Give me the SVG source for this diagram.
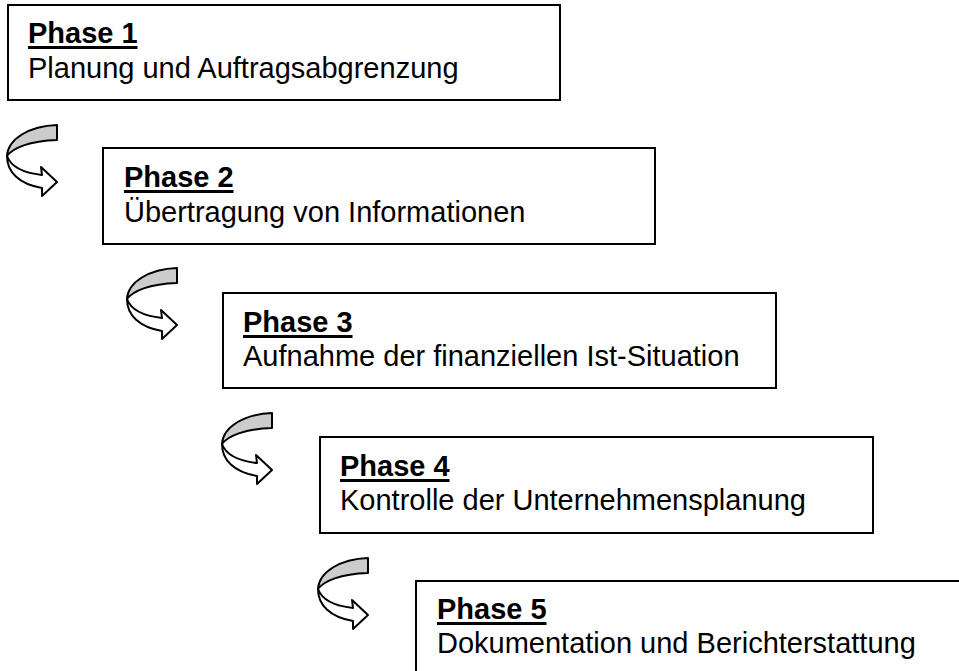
<svg xmlns="http://www.w3.org/2000/svg" xmlns:xlink="http://www.w3.org/1999/xlink" width="959" height="671" viewBox="0 0 959 671">
<style>
.box{fill:#fff;stroke:#000;stroke-width:2}
.t{font-family:"Liberation Sans",Arial,sans-serif;font-size:29px;fill:#000}
.h{font-weight:bold}
.ul{stroke:#000;stroke-width:3}
.band{fill:#cccccc;stroke:#000;stroke-width:2;stroke-linejoin:round}
.body{fill:#fff;stroke:#000;stroke-width:2;stroke-linejoin:round}
</style>
<defs>
<g id="curved">
<path class="body" d="M-50,31 C-50,47 -38,59 -15,63 L-15,71 L0,57 L-16,42 L-15,50 C-33,48 -46,42 -50,31 Z"/>
<path class="band" d="M0,0 C-28,1 -49,14 -50,31 C-44,23 -28,16 0,15 Z"/>
</g>
</defs>
<rect width="959" height="671" fill="#fff"/>
<g id="connectors">
<use xlink:href="#curved" transform="translate(57,125)"/>
<use xlink:href="#curved" transform="translate(177,268)"/>
<use xlink:href="#curved" transform="translate(272,413)"/>
<use xlink:href="#curved" transform="translate(368,558)"/>
</g>
<g id="phase1">
<rect class="box" x="8" y="5" width="552" height="95"/>
<text class="t h" x="28" y="43">Phase 1</text>
<line class="ul" x1="28" y1="47.5" x2="137.5" y2="47.5"/>
<text class="t" x="28" y="78">Planung und Auftragsabgrenzung</text>
</g>
<g id="phase2">
<rect class="box" x="103" y="148" width="552" height="96"/>
<text class="t h" x="124" y="187">Phase 2</text>
<line class="ul" x1="124" y1="191.5" x2="233.5" y2="191.5"/>
<text class="t" x="124" y="222">Übertragung von Informationen</text>
</g>
<g id="phase3">
<rect class="box" x="223" y="293" width="553" height="95"/>
<text class="t h" x="243" y="332">Phase 3</text>
<line class="ul" x1="243" y1="336.5" x2="352.5" y2="336.5"/>
<text class="t" x="243" y="366">Aufnahme der finanziellen Ist-Situation</text>
</g>
<g id="phase4">
<rect class="box" x="320" y="437" width="553" height="96"/>
<text class="t h" x="340" y="476">Phase 4</text>
<line class="ul" x1="340" y1="480.5" x2="449.5" y2="480.5"/>
<text class="t" x="340" y="510">Kontrolle der Unternehmensplanung</text>
</g>
<g id="phase5">
<rect class="box" x="416" y="581" width="553" height="100"/>
<text class="t h" x="437" y="619">Phase 5</text>
<line class="ul" x1="437" y1="623.5" x2="546.5" y2="623.5"/>
<text class="t" x="437" y="653">Dokumentation und Berichterstattung</text>
</g>
</svg>
